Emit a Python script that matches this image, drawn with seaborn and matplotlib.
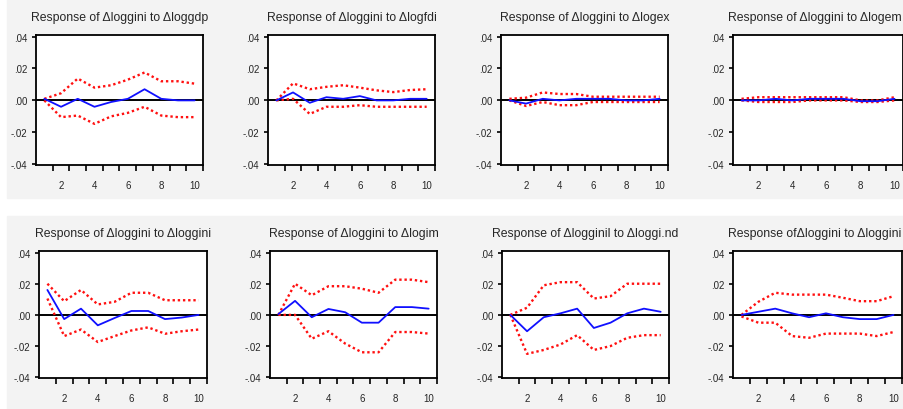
import seaborn as sns
import matplotlib.pyplot as plt
import pandas as pd
from matplotlib.patches import Rectangle

# impulse responses of dloggini, 10 periods, with +/- 2 s.e. bands
steps = [1, 2, 3, 4, 5, 6, 7, 8, 9, 10]

titles = [
    "Response of \u0394loggini to \u0394loggdp",
    "Response of \u0394loggini to \u0394logfdi",
    "Response of \u0394loggini to \u0394logex",
    "Response of \u0394loggini to \u0394logem",
    "Response of \u0394loggini to \u0394loggini",
    "Response of \u0394loggini to \u0394logim",
    "Response of \u0394logginil to \u0394loggi.nd",
    "Response of\u0394loggini to \u0394loggini",
]

gdp_resp = [0.001, -0.004, 0.001, -0.004, -0.001, 0.001, 0.007, 0.001, 0.0, 0.0]
gdp_up = [0.001, 0.0045, 0.0137, 0.008, 0.0095, 0.013, 0.0175, 0.012, 0.012, 0.0105]
gdp_lo = [0.0, -0.0105, -0.0095, -0.0147, -0.010, -0.0078, -0.004, -0.0095, -0.0105, -0.0105]

fdi_resp = [0.0, 0.005, -0.0015, 0.002, 0.001, 0.0027, 0.0, 0.0, 0.001, 0.001]
fdi_up = [0.0, 0.0107, 0.007, 0.0085, 0.0095, 0.008, 0.0063, 0.0052, 0.0065, 0.007]
fdi_lo = [0.0, 0.001, -0.0085, -0.004, -0.004, -0.003, -0.004, -0.004, -0.004, -0.004]

ex_resp = [0.0, -0.002, 0.001, 0.0, 0.001, 0.001, 0.001, 0.0, 0.0, 0.001]
ex_up = [0.001, 0.0017, 0.005, 0.004, 0.004, 0.0023, 0.0023, 0.0023, 0.0023, 0.0023]
ex_lo = [0.0, -0.0035, -0.001, -0.003, -0.003, -0.001, -0.001, -0.001, -0.001, -0.001]

em_resp = [0.0, 0.0, 0.001, 0.0, 0.001, 0.001, 0.001, -0.0005, -0.0005, 0.001]
em_up = [0.001, 0.002, 0.002, 0.002, 0.002, 0.002, 0.002, 0.0, 0.0, 0.002]
em_lo = [0.0, -0.001, -0.001, -0.001, 0.0, 0.0, 0.0, -0.001, -0.001, 0.0]

gini_resp = [0.016, -0.0027, 0.004, -0.0067, -0.002, 0.0025, 0.0025, -0.0027, -0.0017, 0.0]
gini_up = [0.020, 0.0088, 0.016, 0.0067, 0.0084, 0.0142, 0.0142, 0.0094, 0.0094, 0.0094]
gini_lo = [0.0105, -0.0136, -0.0094, -0.0174, -0.0136, -0.010, -0.008, -0.0121, -0.0105, -0.0094]

im_resp = [0.0005, 0.009, -0.0015, 0.0038, 0.0017, -0.005, -0.005, 0.005, 0.005, 0.004]
im_up = [0.0, 0.020, 0.0126, 0.0184, 0.0184, 0.0168, 0.0142, 0.0226, 0.0226, 0.021]
im_lo = [0.0, 0.0, -0.0153, -0.0105, -0.0184, -0.024, -0.024, -0.011, -0.011, -0.012]

ind_resp = [0.0, -0.0105, -0.0015, 0.001, 0.004, -0.0084, -0.005, 0.001, 0.004, 0.002]
ind_up = [0.0, 0.0046, 0.019, 0.021, 0.021, 0.0105, 0.012, 0.020, 0.020, 0.020]
ind_lo = [0.0, -0.025, -0.0225, -0.019, -0.013, -0.0225, -0.020, -0.0147, -0.013, -0.013]

inv_resp = [0.0, 0.002, 0.004, 0.001, -0.0015, 0.001, -0.0015, -0.0027, -0.0027, 0.0]
inv_up = [0.0, 0.0084, 0.0142, 0.013, 0.013, 0.013, 0.011, 0.0088, 0.0088, 0.012]
inv_lo = [-0.001, -0.005, -0.005, -0.0136, -0.0147, -0.012, -0.012, -0.012, -0.0136, -0.011]

panels = [
    (gdp_resp, gdp_up, gdp_lo), (fdi_resp, fdi_up, fdi_lo),
    (ex_resp, ex_up, ex_lo), (em_resp, em_up, em_lo),
    (gini_resp, gini_up, gini_lo), (im_resp, im_up, im_lo),
    (ind_resp, ind_up, ind_lo), (inv_resp, inv_up, inv_lo),
]

sns.set_style("white")
plt.rcParams['font.family'] = ['Liberation Sans', 'DejaVu Sans']

W, H = 904, 410
fig = plt.figure(figsize=(W / 100, H / 100), dpi=100)

# grey panels behind each row, white strip between them
fig.patches.append(Rectangle((7 / W, 1 - 199 / H), 1, 199 / H, transform=fig.transFigure,
                             color='#f3f3f3', zorder=-10))
fig.patches.append(Rectangle((7 / W, 0), 1, 1 - 217 / H, transform=fig.transFigure,
                             color='#f3f3f3', zorder=-10))

# axes boxes in pixels: (left, right, top, bottom)
boxes = [
    (36, 203, 36, 166), (268, 435, 36, 166), (501, 668, 36, 166), (733, 903, 36, 166),
    (39, 207, 252, 379), (270, 437, 252, 379), (502, 669, 252, 379), (733, 902, 252, 379),
]

for i, ((x0, x1, y0, y1), title, (resp, up, lo)) in enumerate(zip(boxes, titles, panels)):
    ax = fig.add_axes([x0 / W, 1 - y1 / H, (x1 - x0) / W, (y1 - y0) / H])
    ax.set_facecolor('white')
    df = pd.DataFrame({'step': steps, 'resp': resp, 'up': up, 'lo': lo})
    ax.axhline(0, color='black', lw=1.4, zorder=1)
    sns.lineplot(data=df, x='step', y='up', ax=ax, color='#ff1010', lw=1.7, zorder=2)
    ax.lines[-1].set_dashes([1, 1.2])
    sns.lineplot(data=df, x='step', y='lo', ax=ax, color='#ff1010', lw=1.7, zorder=2)
    ax.lines[-1].set_dashes([1, 1.2])
    sns.lineplot(data=df, x='step', y='resp', ax=ax, color='#1010ff', lw=1.3, zorder=3)

    ax.set_xlim(0.5, 10.5)
    ax.set_ylim(-0.0405, 0.041)
    ax.set_yticks([-0.04, -0.02, 0.0, 0.02, 0.04])
    ax.set_yticklabels(['-.04', '-.02', '.00', '.02', '.04'])
    ax.set_xticks([2, 4, 6, 8, 10])
    ax.set_xticklabels(['2', '4', '6', '8', '10'])
    ax.set_xticks([s + 0.5 for s in steps], minor=True)
    ax.tick_params(axis='x', which='major', length=0, pad=11, labelsize=7)
    ax.tick_params(axis='x', which='minor', length=4.5, width=1.2, direction='out',
                   bottom=True, color='black')
    ax.tick_params(axis='y', length=3, width=1.2, direction='out', left=True,
                   pad=3, labelsize=7, color='black')
    ax.set_xlabel('')
    ax.set_ylabel('')
    for sp in ax.spines.values():
        sp.set_color('black')
        sp.set_linewidth(1.3)
    if i in (3, 7):
        # right-hand titles run to the edge of the picture
        ax.set_title(title, fontsize=8.8, pad=11, loc='left', x=-0.03)
    else:
        ax.set_title(title, fontsize=8.8, pad=11)

fig.savefig('out.png', dpi=100)
